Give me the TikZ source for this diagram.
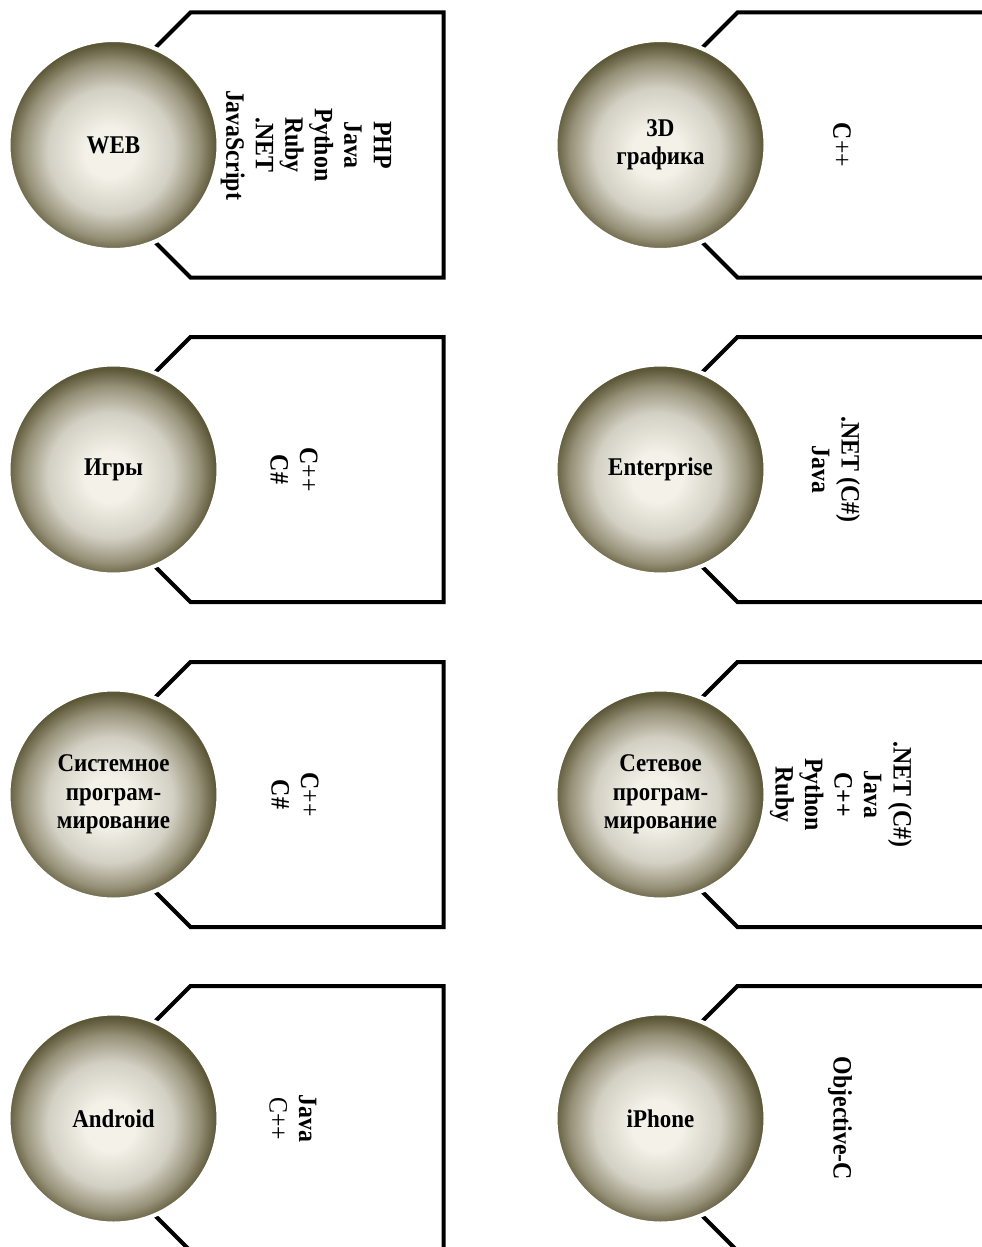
\documentclass[tikz,border=0pt]{standalone}
\usepackage{fontspec}
\setmainfont{Liberation Serif}[FakeStretch=0.9]
\definecolor{ballc}{RGB}{243,241,232}
\definecolor{ballm}{RGB}{210,207,195}
\definecolor{balln}{RGB}{150,145,120}
\definecolor{balle}{RGB}{92,87,55}
\pgfdeclareradialshading{ballsh}{\pgfpoint{-1bp}{-2bp}}{color(0bp)=(ballc); color(6bp)=(ballc); color(15bp)=(ballm); color(21bp)=(balln); color(25bp)=(balle); color(50bp)=(balle)}
\tikzset{
  ball/.style={circle, shading=ballsh, draw=white, line width=4pt, minimum size=210pt, inner sep=0pt,
    align=center, font=\fontsize{25.5}{28.5}\selectfont\bfseries},
  tagline/.style={draw=black, line width=4pt, line join=miter, fill=white},
  langs/.style={rotate=-90, align=center, font=\fontsize{26.5}{29.5}\selectfont\bfseries, inner sep=0pt}
}
\newcommand{\cpp}{C\textmd{++}}
\begin{document}
\begin{tikzpicture}[x=1pt,y=-1pt]
\useasboundingbox (0,0) rectangle (982,1247);
\clip (0,0) rectangle (982,1247);
\fill[white] (0,0) rectangle (982,1247);
% tags
\foreach \cx/\cy in {113.5/145, 113.5/469.5, 113.5/794.5, 113.5/1118.5, 660.5/145, 660.5/469.5, 660.5/794.5, 660.5/1118.5}{
  \draw[tagline] (\cx-55.5,\cy) -- (\cx+77,\cy-132.5) -- (\cx+330,\cy-132.5) -- (\cx+330,\cy+132.5) -- (\cx+77,\cy+132.5) -- cycle;
}
% circles
\node[ball] (web) at (113.5,145) {WEB};
\node[ball] (games) at (113.5,469.5) {Игры};
\node[ball] (sys) at (113.5,794.5) {Системное\\програм-\\мирование};
\node[ball] (android) at (113.5,1118.5) {Android};
\node[ball] (g3d) at (660.5,145) {3D\\графика};
\node[ball] (ent) at (660.5,469.5) {Enterprise};
\node[ball] (net) at (660.5,794.5) {Сетевое\\програм-\\мирование};
\node[ball] (iphone) at (660.5,1118.5) {iPhone};
% languages
\node[langs] (webl) at (306,145) {PHP\\Java\\Python\\Ruby\\.NET\\JavaScript};
\node[langs] (gamesl) at (294,469.5) {\cpp\\C\#};
\node[langs] (sysl) at (295,794.5) {\cpp\\C\#};
\node[langs] (androidl) at (293,1118.5) {Java\\\textmd{C++}};
\node[langs] (g3dl) at (842,145) {\cpp};
\node[langs] (entl) at (836,469.5) {.NET (C\#)\\Java};
\node[langs] (netl) at (841,794.5) {.NET (C\#)\\Java\\C++\\Python\\Ruby};
\node[langs] (iphonel) at (840,1118.5) {Objective-C};
\end{tikzpicture}
\end{document}
